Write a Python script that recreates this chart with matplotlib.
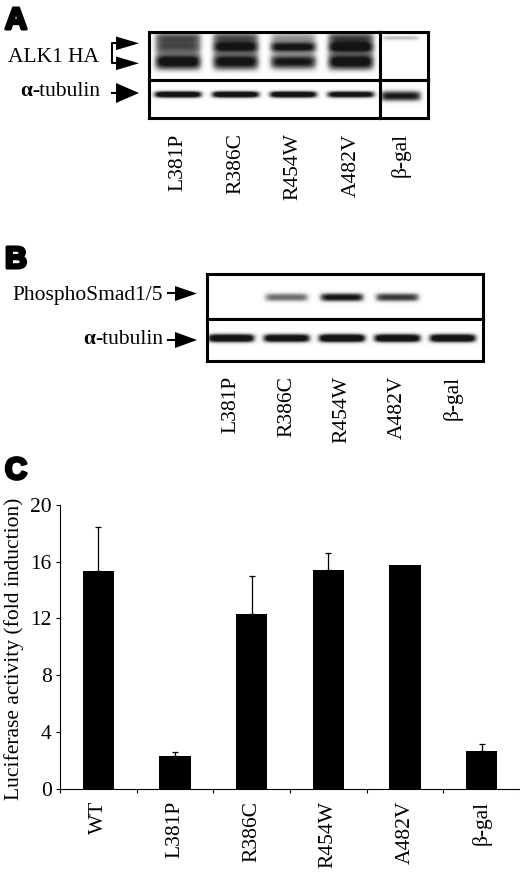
import numpy as np
import matplotlib
matplotlib.use("Agg")
import matplotlib.pyplot as plt
from matplotlib.patches import Polygon
from matplotlib import patheffects

plt.rcParams['font.family'] = ['Liberation Serif', 'DejaVu Serif']
plt.rcParams['font.size'] = 15.5

# panel A - ALK1 HA blot, band strength 0..1 per lane
lanes_a = ['L381P', 'R386C', 'R454W', 'A482V']
alk1_smear = [0.62, 0.62, 0.42, 0.66]
alk1_top = [0.25, 0.25, 0.15, 0.25]
alk1_upper = [0.20, 0.45, 0.65, 0.45]
alk1_lower = [0.50, 0.45, 0.60, 0.45]
tub_a = [1.3, 1.3, 1.3, 1.2]
bgal_label = 'β-gal'
bgal_alk1 = [0.40]
bgal_tub = [1.0]

# panel B - phospho Smad1/5 blot
lanes_b = ['L381P', 'R386C', 'R454W', 'A482V', 'β-gal']
psmad = [0.0, 0.70, 1.05, 0.90, 0.0]
tub_b = [1.3, 1.25, 1.35, 1.3, 1.3]

# panel C - luciferase assay
groups = ['WT', 'L381P', 'R386C', 'R454W', 'A482V', 'β-gal']
luc = [15.35, 2.31, 12.29, 15.40, 15.77, 2.68]
luc_err = [3.13, 0.24, 2.69, 1.24, 0.0, 0.44]

W, H = 520, 872
fig = plt.figure(figsize=(W / 100, H / 100), dpi=100)


def box(x0, y0, x1, y1):
    # pixel box -> figure fraction rect
    return [x0 / W, 1 - y1 / H, (x1 - x0) / W, (y1 - y0) / H]


def blot(rect, rows, xlim, hw):
    # rows: (values, y centre, half size, power), y runs 0 (top) .. 1 (bottom)
    ax = fig.add_axes(rect)
    xs = np.linspace(xlim[0], xlim[1], 400)
    ys = np.linspace(0, 1, 200)
    X, Y = np.meshgrid(xs, ys)
    img = np.zeros_like(X)
    for vals, yc, sy, p in rows:
        gy = np.exp(-0.5 * np.abs((Y - yc) / sy) ** p)
        for i, v in enumerate(vals):
            gx = np.exp(-np.abs((X - i) / hw) ** 8)
            img += v * gx * gy
    ax.imshow(np.clip(img, 0, 1), extent=[xlim[0], xlim[1], 1, 0],
              cmap='Greys', vmin=0, vmax=1.08, aspect='auto',
              interpolation='bilinear')
    ax.set_xlim(xlim)
    ax.set_ylim(1, 0)
    ax.set_xticks([])
    ax.set_yticks([])
    for s in ax.spines.values():
        s.set_linewidth(2.2)
    return ax


def lane_labels(ax, labels):
    ax.set_xticks(range(len(labels)), labels, rotation=90)
    ax.tick_params(axis='x', length=0, pad=11)


# ---- panel A
xa = (-0.5, 3.5)
xg = (-0.355, 0.47)
blot(box(149, 32, 380, 80.3),
     [(alk1_smear, 0.42, 0.38, 8),
      (alk1_top, 0.15, 0.08, 2),
      (alk1_upper, 0.33, 0.075, 2.5),
      (alk1_lower, 0.63, 0.1, 2.5)], xa, 0.41)
blot(box(380, 32, 427.7, 80.3), [(bgal_alk1, 0.14, 0.035, 2)], xg, 0.32)
ax = blot(box(149, 80.3, 380, 118), [(tub_a, 0.38, 0.07, 2.5)], xa, 0.42)
lane_labels(ax, lanes_a)
ax = blot(box(380, 80.3, 427.7, 118), [(bgal_tub, 0.42, 0.11, 2.5)], xg, 0.36)
lane_labels(ax, [bgal_label])

# ---- panel B
xb = (-0.432, 4.54)
blot(box(207, 274, 483, 319), [(psmad, 0.518, 0.075, 2.5)], xb, 0.40)
ax = blot(box(207, 319, 483, 360.7), [(tub_b, 0.456, 0.08, 2.5)], xb, 0.43)
lane_labels(ax, lanes_b)

# ---- panel C
ax = fig.add_axes(box(60, 505, 520, 788.5))
x = np.arange(len(groups))
ax.bar(x, luc, width=0.41, color='black')
err = np.array(luc_err)
m = err > 0
ax.errorbar(x[m], np.array(luc)[m], yerr=[np.zeros(m.sum()), err[m]],
            fmt='none', ecolor='black', elinewidth=0.9, capsize=2.2,
            capthick=0.9)
ax.set_xlim(-0.5, 5.5)
ax.set_ylim(0, 20)
ax.set_yticks([0, 4, 8, 12, 16, 20])
ax.spines['top'].set_visible(False)
ax.spines['right'].set_visible(False)
ax.spines['left'].set_linewidth(0.8)
ax.spines['bottom'].set_linewidth(0.8)
ax.set_xticks(x, groups, rotation=90)
ax.set_xticks(np.arange(-0.5, 6, 1), minor=True)
ax.tick_params(axis='x', which='major', length=0, pad=9)
ax.tick_params(axis='x', which='minor', length=3, width=0.8)
ax.tick_params(axis='y', length=3, width=0.8, pad=3)

# ---- overlay for labels and arrows (pixel coordinates)
ov = fig.add_axes([0, 0, 1, 1], zorder=10)
ov.set_xlim(0, W)
ov.set_ylim(H, 0)
ov.axis('off')
ov.patch.set_alpha(0)

for letter, y in [('A', 6), ('B', 245), ('C', 456)]:
    ov.text(5, y, letter, family='Liberation Sans', fontweight='bold',
            fontsize=22, va='top', ha='left',
            path_effects=[patheffects.withStroke(linewidth=2.2, foreground='k')])


def head(xb_, xt, y, hh):
    ov.add_patch(Polygon([(xb_, y - hh), (xt, y), (xb_, y + hh)],
                         closed=True, color='k', lw=0))


def tubulin_label(xr, yb):
    t = ov.text(xr, yb, '-tubulin', ha='right', va='baseline')
    ov.annotate('α', xy=(0, 0), xycoords=t, ha='right', va='bottom',
                fontweight='bold')


ov.text(99, 62, 'ALK1 HA', ha='right', va='baseline')
ov.plot([117, 112, 112, 117], [43.3, 43.3, 63.3, 63.3], color='k', lw=1.5)
head(116, 139, 43.3, 6.8)
head(116, 139, 63.3, 6.8)

tubulin_label(100, 96)
ov.plot([112, 117], [93, 93], color='k', lw=1.5)
head(116, 139, 93, 10)

ov.text(163, 300, 'PhosphoSmad1/5', ha='right', va='baseline')
ov.plot([168, 176], [293.5, 293.5], color='k', lw=1.5)
head(175, 197, 293.5, 7.5)

tubulin_label(163, 344)
ov.plot([168, 176], [340, 340], color='k', lw=1.5)
head(175, 197, 340, 8)

ov.text(14, 649, 'Luciferase activity (fold induction)', rotation=90,
        ha='center', va='center')

fig.savefig('out.png', dpi=100)
